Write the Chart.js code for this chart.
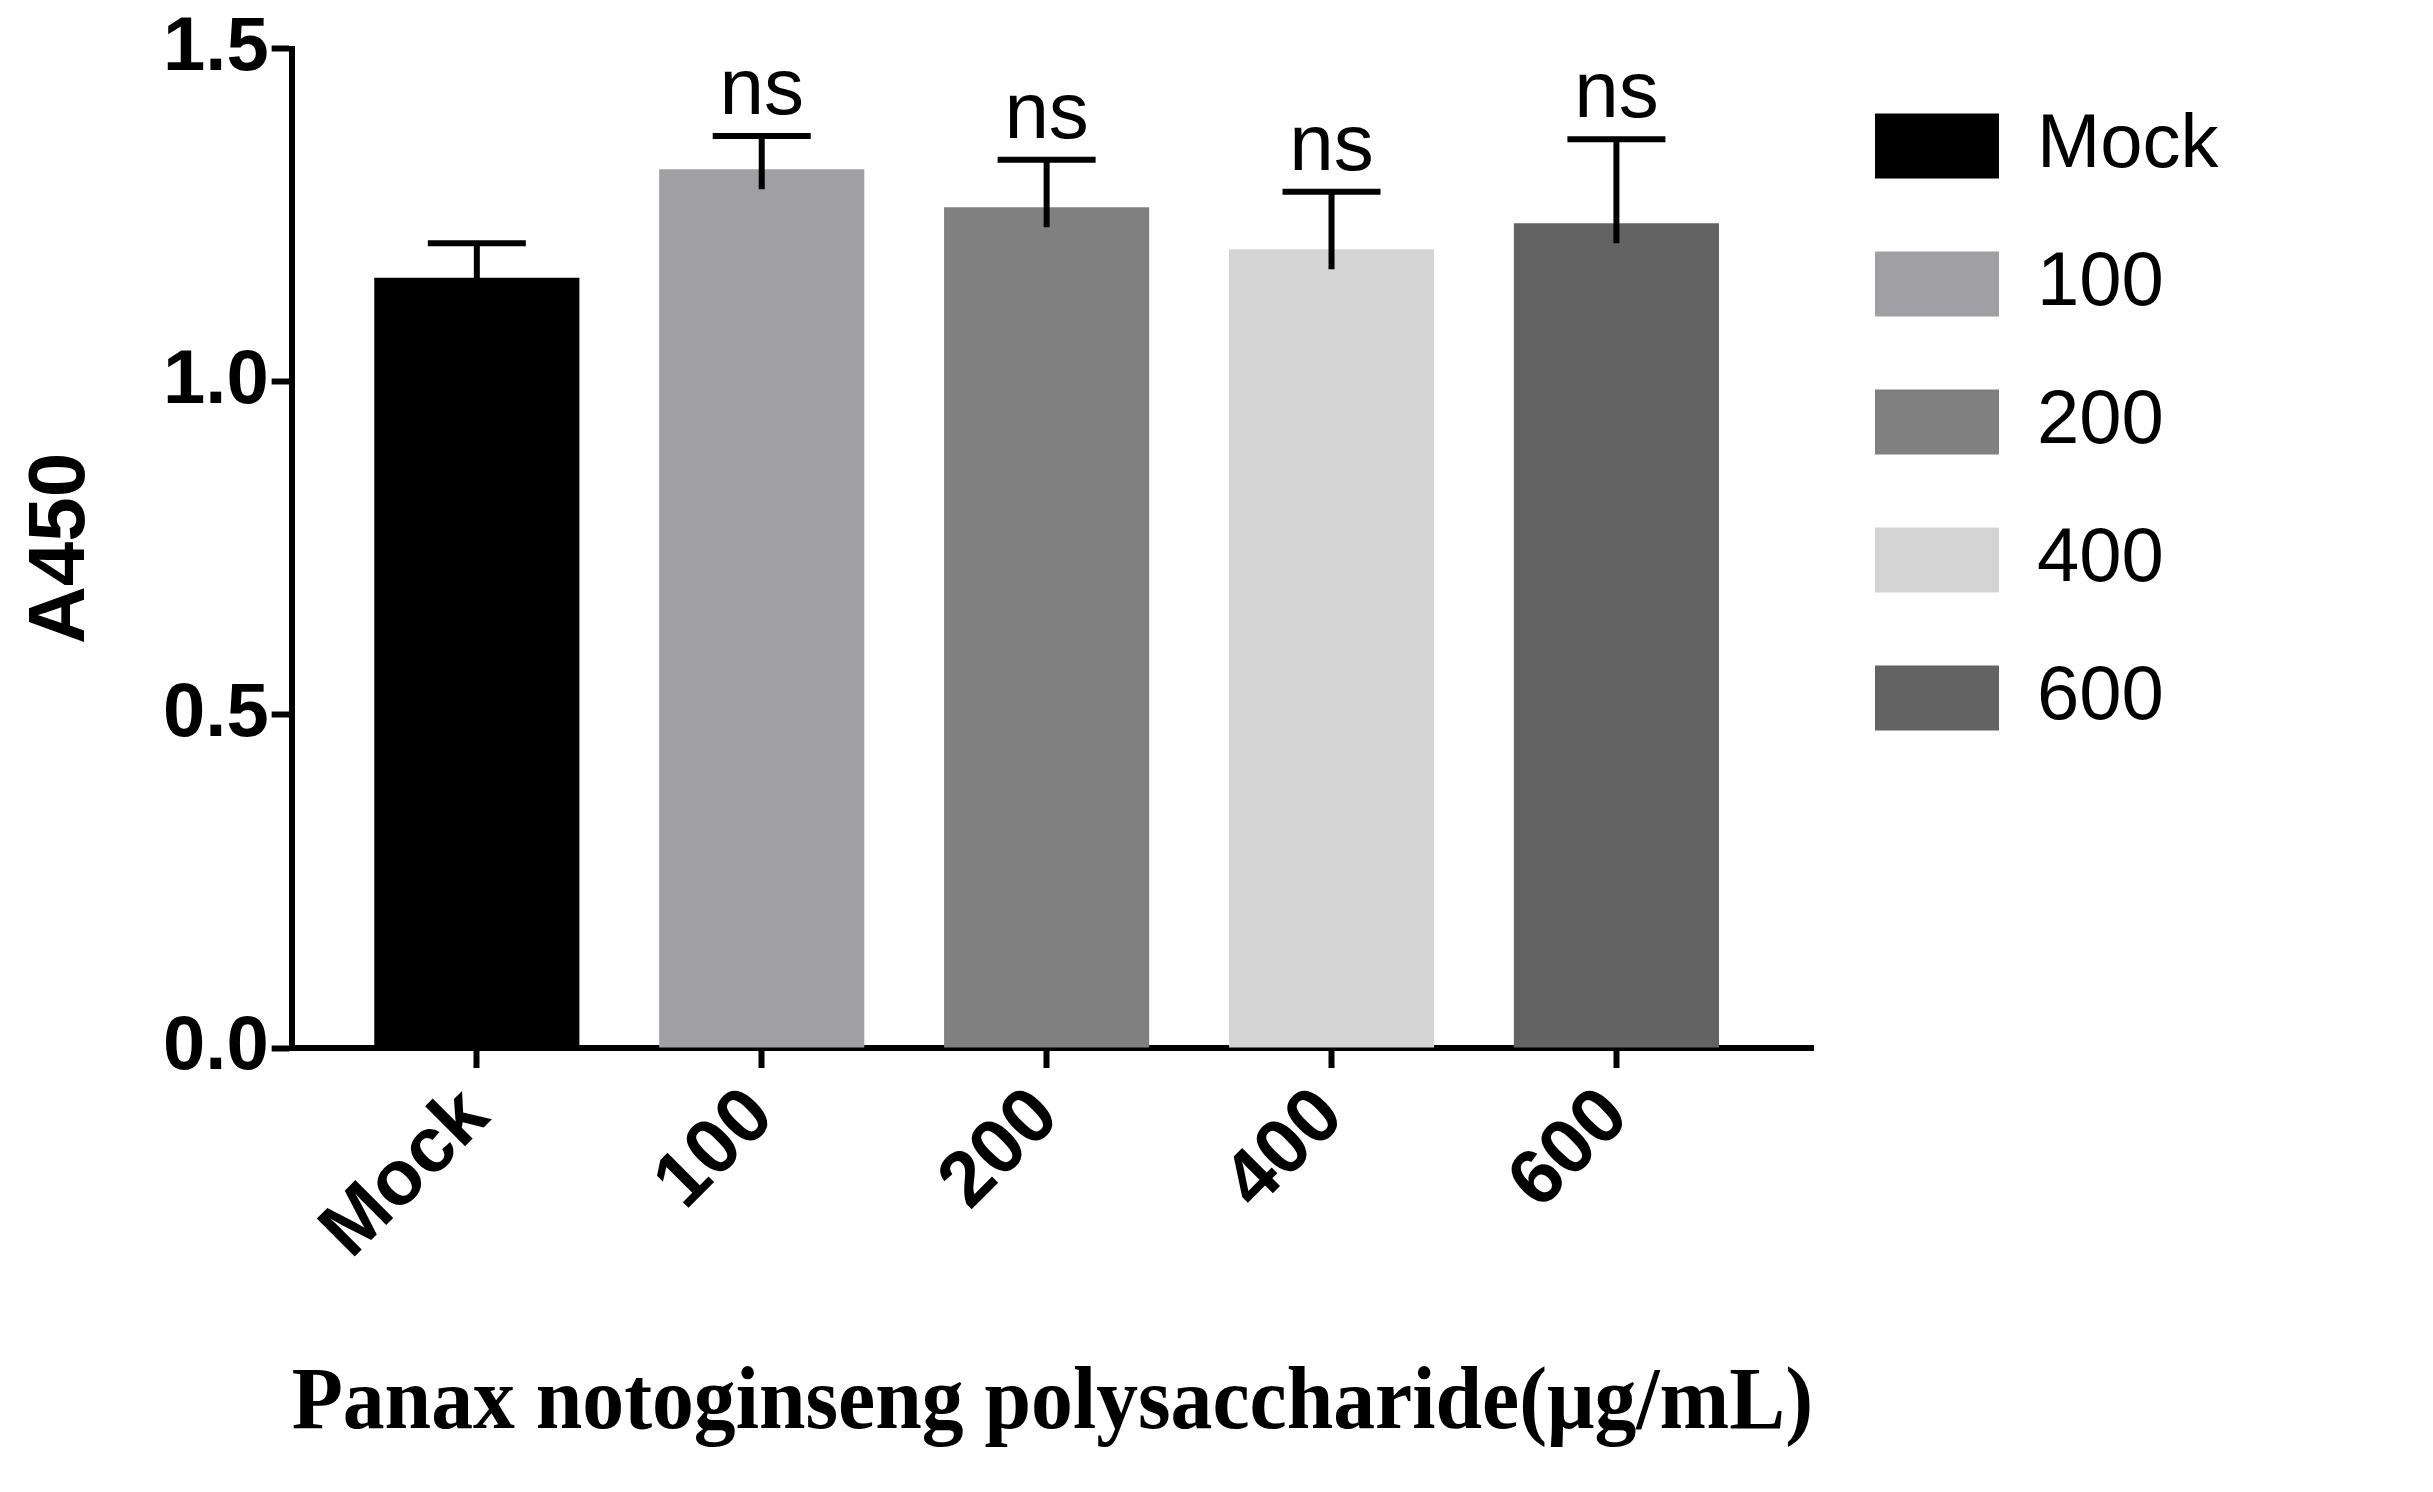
<!DOCTYPE html>
<html>
<head>
<meta charset="utf-8">
<script src="https://cdn.jsdelivr.net/npm/chart.js@4"></script>
<style>
  body { margin: 0; background: #fff; }
  #wrap { width: 2433px; height: 1492px; }
</style>
</head>
<body>
<div id="wrap"><canvas id="c"></canvas></div>
<script>
const categories = ["Mock", "100", "200", "400", "600"];
const means = [1.156, 1.319, 1.262, 1.199, 1.238];
const errors = [0.052, 0.05, 0.071, 0.086, 0.126];
const marks = ["", "ns", "ns", "ns", "ns"];
const colors = ["#000000", "#a0a0a4", "#808080", "#d4d4d4", "#636363"];

// error bars + ns marks
const errorBars = {
  id: "errorBars",
  afterDatasetsDraw(chart) {
    const ctx = chart.ctx;
    const y = chart.scales.y;
    const meta = chart.getDatasetMeta(0);
    ctx.save();
    ctx.strokeStyle = "#000";
    ctx.lineWidth = 6;
    meta.data.forEach((bar, i) => {
      const top = y.getPixelForValue(means[i] + errors[i]);
      const base = y.getPixelForValue(means[i] - 0.03);
      ctx.beginPath();
      ctx.moveTo(bar.x, base);
      ctx.lineTo(bar.x, top);
      ctx.moveTo(bar.x - 49, top);
      ctx.lineTo(bar.x + 49, top);
      ctx.stroke();
      if (marks[i]) {
        ctx.fillStyle = "#000";
        ctx.font = "80px 'Liberation Sans', Arial";
        ctx.textAlign = "center";
        ctx.textBaseline = "bottom";
        ctx.fillText(marks[i], bar.x, top - 4);
      }
    });
    ctx.restore();
  },
};

const legendGap = {
  id: "legendGap",
  beforeLayout(chart) {
    const lg = chart.legend;
    if (lg && !lg._patched) {
      const fit = lg.fit;
      lg.fit = function () {
        fit.call(this);
        this.width = 620;
      };
      lg._patched = true;
    }
  },
};

new Chart(document.getElementById("c"), {
  type: "bar",
  data: {
    datasets: [
      {
        data: means.map((v, i) => ({ x: i, y: v })),
        backgroundColor: colors,
        barPercentage: 0.72,
        categoryPercentage: 1,
      },
    ],
  },
  plugins: [errorBars, legendGap],
  options: {
    responsive: true,
    maintainAspectRatio: false,
    animation: false,
    layout: { padding: { top: 46, left: 10, bottom: 30, right: 0 } },
    plugins: {
      tooltip: { enabled: false },
      legend: {
        position: "right",
        align: "start",
        labels: {
          color: "#000",
          font: { size: 76, family: "'Liberation Sans', Arial" },
          boxWidth: 124,
          boxHeight: 65,
          padding: 62,
          generateLabels: () =>
            categories.map((c, i) => ({
              text: c,
              fillStyle: colors[i],
              strokeStyle: colors[i],
              lineWidth: 0,
              index: i,
            })),
        },
      },
    },
    scales: {
      x: {
        type: "linear",
        offset: false,
        min: -0.65,
        max: 4.69,
        grid: { drawOnChartArea: false, offset: false, tickLength: 20, tickWidth: 6, tickColor: "#000" },
        border: { color: "#000", width: 6 },
        ticks: {
          stepSize: 1,
          includeBounds: false,
          autoSkip: false,
          maxRotation: 45,
          minRotation: 45,
          color: "#000",
          font: { size: 78, weight: "bold", family: "'Liberation Sans', Arial" },
          callback: (v) => categories[v] ?? "",
        },
        title: {
          display: true,
          text: "Panax notoginseng polysaccharide(μg/mL)",
          color: "#000",
          font: { size: 89, weight: "bold", family: "'Liberation Serif', 'Times New Roman'" },
          padding: { top: 70 },
        },
      },
      y: {
        min: 0,
        max: 1.5,
        grid: { drawOnChartArea: false, tickLength: 20, tickWidth: 6, tickColor: "#000" },
        border: { color: "#000", width: 6 },
        ticks: {
          stepSize: 0.5,
          color: "#000",
          font: { size: 76, weight: "bold", family: "'Liberation Sans', Arial" },
          callback: (v) => v.toFixed(1),
        },
        title: {
          display: true,
          text: "A450",
          color: "#000",
          font: { size: 80, weight: "bold", family: "'Liberation Sans', Arial" },
          padding: { bottom: 50 },
        },
      },
    },
  },
});
</script>
</body>
</html>
